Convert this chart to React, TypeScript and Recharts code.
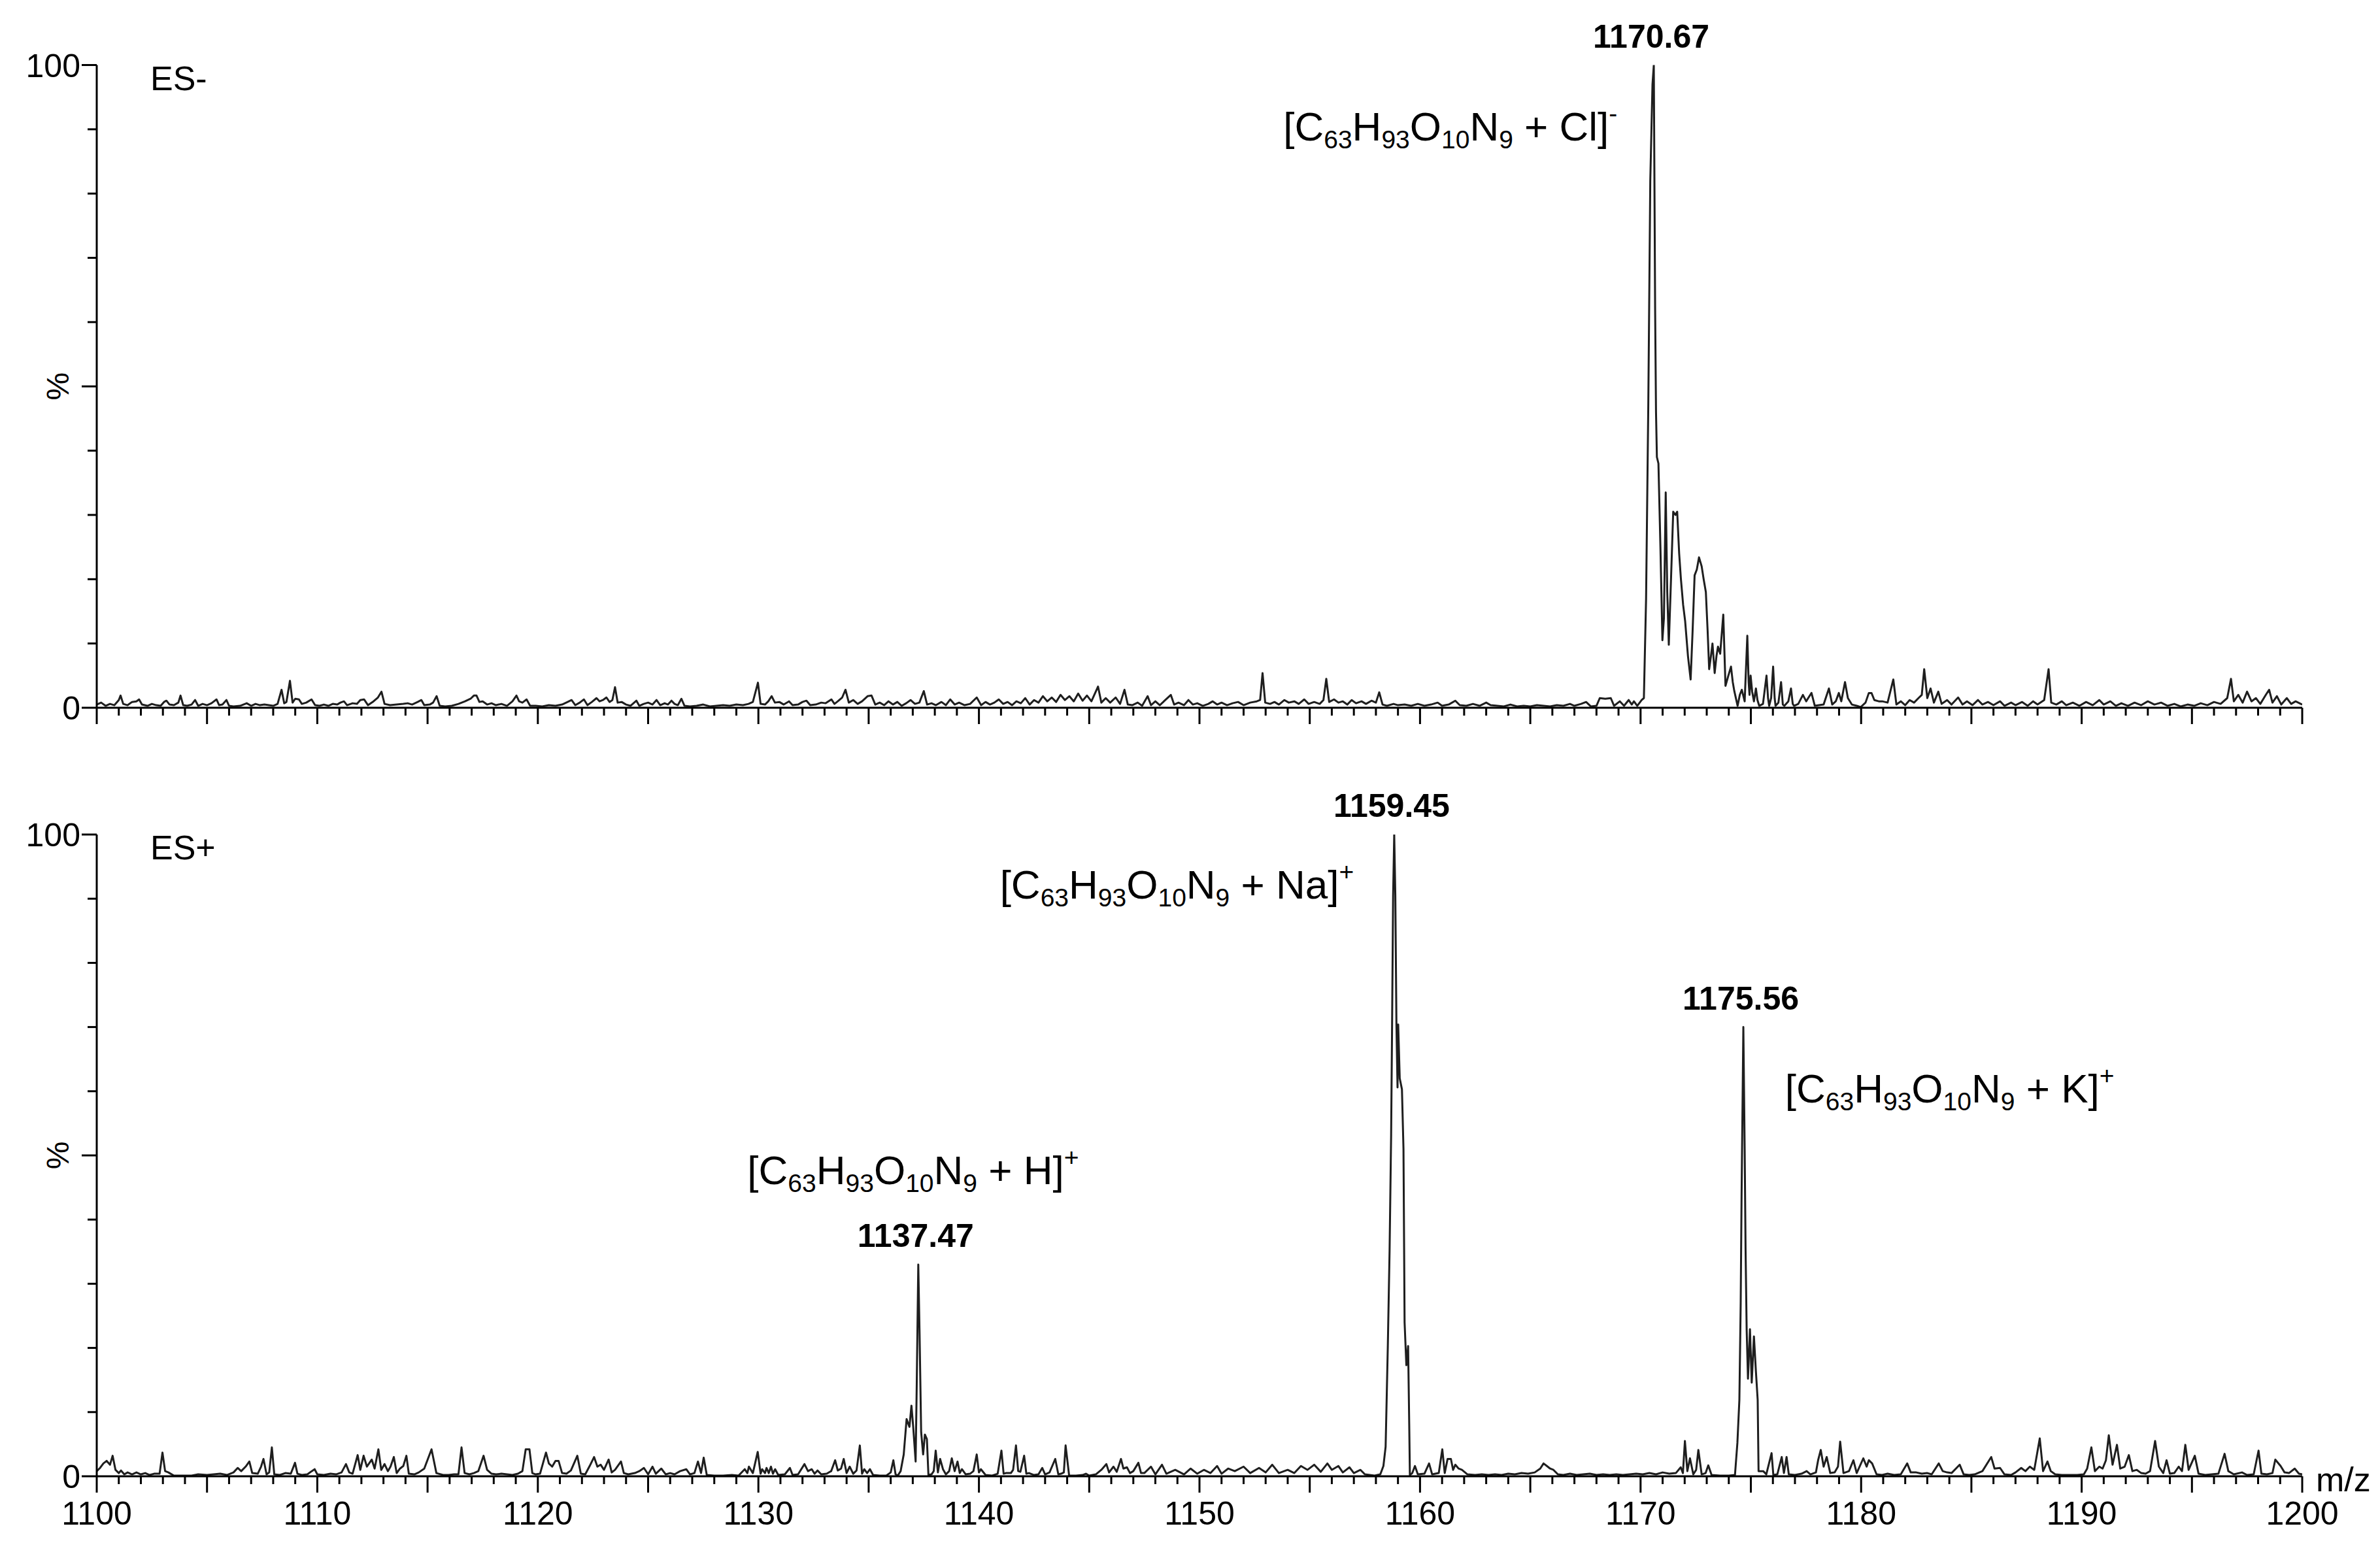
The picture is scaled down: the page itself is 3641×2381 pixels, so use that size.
import React from 'react';
import { LineChart, Line, XAxis, YAxis, ReferenceDot } from 'recharts';

// ---------- DATA (m/z, relative intensity %) ----------
const esMinusA: number[][] = [
  [1100.0, 0.5], [1100.2, 0.8], [1100.4, 0.3], [1100.6, 0.6], [1100.8, 0.4], [1101.0, 1.2], [1101.08, 1.9], [1101.2, 0.6],
  [1101.4, 0.4], [1101.6, 0.9], [1101.8, 1.0], [1101.92, 1.3], [1102.05, 0.5], [1102.3, 0.3], [1102.5, 0.6], [1102.7, 0.4],
  [1102.9, 0.3], [1103.05, 0.9], [1103.16, 1.1], [1103.3, 0.5], [1103.5, 0.4], [1103.7, 0.8], [1103.8, 1.9], [1103.92, 0.4],
  [1104.1, 0.3], [1104.3, 0.5], [1104.46, 1.2], [1104.6, 0.3], [1104.8, 0.6], [1105.0, 0.4], [1105.2, 0.7], [1105.43, 1.3],
  [1105.55, 0.4], [1105.7, 0.5], [1105.88, 1.2], [1106.0, 0.3], [1106.2, 0.2], [1106.5, 0.3], [1106.8, 0.7], [1107.0, 0.3],
  [1107.2, 0.6], [1107.4, 0.4], [1107.6, 0.5], [1107.8, 0.4], [1108.0, 0.3], [1108.2, 0.6], [1108.38, 2.8], [1108.5, 0.7],
  [1108.6, 0.9], [1108.76, 4.2], [1108.88, 0.8], [1109.0, 1.4], [1109.17, 1.3], [1109.3, 0.6], [1109.5, 0.8], [1109.74, 1.3],
  [1109.9, 0.4], [1110.1, 0.3], [1110.3, 0.5], [1110.5, 0.3], [1110.7, 0.6], [1110.9, 0.5], [1111.05, 0.8], [1111.21, 1.0],
  [1111.35, 0.4], [1111.6, 0.7], [1111.8, 0.6], [1111.95, 1.2], [1112.12, 1.3], [1112.3, 0.4], [1112.55, 1.0], [1112.75, 1.6],
  [1112.91, 2.5], [1113.05, 0.6], [1113.3, 0.4], [1113.6, 0.5], [1113.9, 0.6], [1114.1, 0.7], [1114.3, 0.5], [1114.55, 0.9],
  [1114.72, 1.2], [1114.85, 0.4], [1115.1, 0.5], [1115.25, 0.8], [1115.41, 1.8], [1115.55, 0.3], [1115.8, 0.2], [1116.1, 0.3],
  [1116.4, 0.6], [1116.7, 1.0], [1116.95, 1.4], [1117.1, 1.9], [1117.22, 1.9], [1117.35, 0.9], [1117.5, 1.0], [1117.7, 0.5],
  [1117.9, 0.7], [1118.1, 0.4], [1118.35, 0.6], [1118.6, 0.3], [1118.85, 1.0], [1119.03, 1.9], [1119.15, 1.0], [1119.3, 0.8],
  [1119.49, 1.3], [1119.65, 0.3], [1119.9, 0.3], [1120.2, 0.2], [1120.5, 0.4], [1120.8, 0.3], [1121.1, 0.5], [1121.35, 0.9],
  [1121.53, 1.2], [1121.7, 0.4], [1121.9, 0.8], [1122.09, 1.3], [1122.25, 0.4], [1122.45, 0.9], [1122.66, 1.5], [1122.8, 1.0],
  [1122.95, 1.2], [1123.11, 1.6], [1123.25, 0.9], [1123.38, 1.2], [1123.5, 3.2], [1123.62, 0.8], [1123.8, 0.9], [1124.0, 0.5],
  [1124.2, 0.3], [1124.47, 1.1], [1124.6, 0.3], [1124.8, 0.6], [1125.0, 0.8], [1125.2, 0.5], [1125.38, 1.2], [1125.55, 0.4],
  [1125.75, 0.7], [1125.9, 0.5], [1126.06, 1.1], [1126.2, 0.6], [1126.35, 0.4], [1126.51, 1.4], [1126.65, 0.3], [1126.9, 0.2],
  [1127.2, 0.3], [1127.5, 0.5], [1127.8, 0.2], [1128.1, 0.3], [1128.4, 0.4], [1128.7, 0.3], [1129.0, 0.5], [1129.3, 0.4],
  [1129.55, 0.6], [1129.75, 0.9], [1129.98, 3.9], [1130.1, 0.6], [1130.3, 0.5], [1130.45, 1.0], [1130.6, 1.8], [1130.75, 0.8],
  [1130.95, 0.9], [1131.15, 0.5], [1131.39, 1.0], [1131.55, 0.4], [1131.8, 0.5], [1132.0, 0.9], [1132.18, 1.1], [1132.35, 0.4],
  [1132.6, 0.5], [1132.85, 0.8], [1133.05, 0.7], [1133.31, 1.3], [1133.45, 0.6], [1133.6, 1.0], [1133.8, 1.6], [1133.95, 2.8],
  [1134.1, 0.8], [1134.3, 1.2], [1134.5, 0.6], [1134.7, 1.0], [1134.95, 1.8], [1135.13, 1.9], [1135.3, 0.5],
];
const esMinusB: number[][] = [
  [1135.5, 0.8], [1135.7, 0.4], [1135.9, 1.0], [1136.1, 0.5], [1136.3, 0.9], [1136.5, 0.3], [1136.7, 0.7], [1136.9, 1.2],
  [1137.1, 0.6], [1137.3, 0.8], [1137.5, 2.6], [1137.65, 0.5], [1137.85, 0.7], [1138.05, 0.4], [1138.3, 0.9], [1138.5, 0.4],
  [1138.7, 1.3], [1138.9, 0.5], [1139.1, 0.8], [1139.35, 0.4], [1139.6, 0.6], [1139.9, 1.6], [1140.1, 0.4], [1140.3, 0.9],
  [1140.5, 0.5], [1140.7, 0.8], [1140.9, 1.3], [1141.1, 0.6], [1141.3, 0.9], [1141.5, 0.4], [1141.7, 1.0], [1141.9, 0.7],
  [1142.1, 1.5], [1142.3, 0.5], [1142.5, 1.2], [1142.7, 0.8], [1142.9, 1.8], [1143.1, 1.0], [1143.3, 1.6], [1143.5, 0.9],
  [1143.7, 2.0], [1143.9, 1.2], [1144.1, 1.8], [1144.3, 1.0], [1144.5, 2.2], [1144.7, 1.1], [1144.9, 1.9], [1145.1, 1.0],
  [1145.4, 3.3], [1145.55, 0.8], [1145.75, 1.5], [1145.95, 0.8], [1146.2, 1.6], [1146.4, 0.6], [1146.6, 2.8], [1146.75, 0.5],
  [1146.95, 0.4], [1147.2, 0.8], [1147.4, 0.3], [1147.65, 1.8], [1147.8, 0.4], [1148.0, 1.0], [1148.2, 0.4], [1148.45, 1.2],
  [1148.7, 2.0], [1148.85, 0.5], [1149.05, 0.8], [1149.3, 0.4], [1149.5, 1.2], [1149.7, 0.5], [1149.9, 0.7], [1150.15, 0.3],
  [1150.4, 0.6], [1150.6, 1.0], [1150.8, 0.5], [1151.0, 0.8], [1151.25, 0.4], [1151.5, 0.7], [1151.75, 0.9], [1152.0, 0.4],
  [1152.3, 0.8], [1152.6, 1.0], [1152.75, 1.2], [1152.86, 5.4], [1152.98, 0.8], [1153.2, 0.6], [1153.4, 0.9], [1153.6, 0.5],
  [1153.85, 1.2], [1154.05, 0.8], [1154.3, 1.0], [1154.5, 0.6], [1154.75, 1.3], [1154.95, 0.6], [1155.2, 0.9], [1155.45, 0.6],
  [1155.62, 1.2], [1155.75, 4.5], [1155.88, 0.9], [1156.1, 1.3], [1156.3, 0.8], [1156.5, 1.0], [1156.7, 0.5], [1156.9, 1.2],
  [1157.1, 0.7], [1157.35, 1.0], [1157.55, 0.6], [1157.8, 1.1], [1158.0, 0.8], [1158.15, 2.4], [1158.3, 0.5], [1158.5, 0.3],
  [1158.8, 0.6], [1159.0, 0.4], [1159.3, 0.5], [1159.6, 0.3], [1159.9, 0.6], [1160.2, 0.3], [1160.5, 0.5], [1160.8, 0.8],
  [1161.0, 0.3], [1161.3, 0.5], [1161.6, 1.1], [1161.8, 0.4], [1162.1, 0.3], [1162.4, 0.6], [1162.7, 0.3], [1163.0, 0.8],
  [1163.2, 0.4], [1163.5, 0.3], [1163.8, 0.2], [1164.1, 0.5], [1164.4, 0.2], [1164.7, 0.3], [1165.0, 0.2], [1165.3, 0.4],
  [1165.6, 0.3], [1165.9, 0.2], [1166.2, 0.4], [1166.5, 0.3], [1166.8, 0.6], [1167.0, 0.3], [1167.3, 0.6], [1167.53, 0.9],
  [1167.75, 0.2], [1168.0, 0.3], [1168.15, 1.5], [1168.4, 1.4], [1168.65, 1.5], [1168.8, 0.3], [1169.06, 1.0], [1169.25, 0.3],
  [1169.46, 1.2], [1169.6, 0.5], [1169.7, 1.0], [1169.85, 0.3], [1170.05, 1.2], [1170.15, 1.5],
];
const esMinusPeak: number[][] = [
  [1170.25, 17], [1170.35, 47], [1170.44, 82], [1170.54, 97], [1170.6, 100], [1170.66, 62], [1170.7, 46], [1170.74, 39],
  [1170.81, 38], [1170.9, 25], [1170.99, 10.5], [1171.06, 14], [1171.14, 33.5], [1171.21, 18], [1171.28, 9.8], [1171.38, 20],
  [1171.48, 30.5], [1171.58, 30], [1171.66, 30.5], [1171.75, 24], [1171.83, 20], [1171.93, 16], [1172.02, 13.5], [1172.15, 8],
  [1172.27, 4.4], [1172.36, 12], [1172.45, 20.6], [1172.55, 21.5], [1172.65, 23.4], [1172.77, 22], [1172.86, 20], [1172.96, 18],
  [1173.04, 12], [1173.11, 6], [1173.19, 8], [1173.26, 10], [1173.36, 5.4], [1173.44, 8], [1173.51, 9.5], [1173.61, 8.4],
  [1173.75, 14.5], [1173.85, 3.4], [1173.98, 5], [1174.1, 6.4], [1174.18, 4], [1174.25, 2.6], [1174.4, 0.3], [1174.5, 2],
  [1174.59, 2.8], [1174.72, 1], [1174.84, 11.2], [1174.9, 4], [1174.94, 2], [1174.99, 5], [1175.06, 2.5], [1175.14, 1],
  [1175.23, 3], [1175.3, 1.2], [1175.38, 0.3], [1175.55, 0.6], [1175.71, 5], [1175.78, 1.5], [1175.83, 0.3], [1175.92, 1.5],
  [1176.01, 6.4], [1176.08, 1.5], [1176.12, 0.3], [1176.25, 0.8], [1176.37, 4], [1176.45, 0.5], [1176.52, 0.3], [1176.7, 1.0],
  [1176.82, 3], [1176.9, 0.6], [1176.96, 0.3], [1177.15, 0.6], [1177.36, 2], [1177.51, 1], [1177.6, 1.5], [1177.75, 2.3],
  [1177.9, 0.3], [1178.1, 0.4], [1178.3, 0.5], [1178.54, 3], [1178.69, 0.5], [1178.85, 1.0], [1178.99, 2.3], [1179.1, 1.0],
  [1179.27, 4], [1179.4, 1.5], [1179.58, 0.5], [1179.8, 0.3], [1179.98, 0.1], [1180.2, 0.8], [1180.35, 2.3], [1180.47, 2.3],
  [1180.6, 1.2], [1180.8, 1.0], [1180.96, 1.0], [1181.2, 0.8], [1181.46, 4.4],
];
const esMinusC: number[][] = [
  [1181.6, 0.5], [1181.8, 1.0], [1182.0, 0.4], [1182.2, 1.2], [1182.4, 0.8], [1182.6, 1.5], [1182.75, 2.0], [1182.86, 6.0],
  [1183.0, 1.5], [1183.15, 3.0], [1183.3, 0.8], [1183.5, 2.5], [1183.65, 0.6], [1183.9, 1.2], [1184.1, 0.5], [1184.4, 1.6],
  [1184.6, 0.5], [1184.8, 1.0], [1185.05, 0.4], [1185.3, 1.2], [1185.5, 0.5], [1185.75, 0.9], [1186.0, 0.4], [1186.3, 1.0],
  [1186.5, 0.3], [1186.8, 0.8], [1187.0, 0.4], [1187.3, 0.9], [1187.55, 0.3], [1187.8, 1.0], [1188.0, 0.5], [1188.3, 1.2],
  [1188.5, 6.0], [1188.62, 0.8], [1188.85, 0.5], [1189.1, 1.0], [1189.3, 0.4], [1189.6, 0.8], [1189.9, 0.3], [1190.2, 0.9],
  [1190.5, 0.4], [1190.8, 1.2], [1191.0, 0.5], [1191.3, 1.0], [1191.55, 0.3], [1191.8, 0.7], [1192.1, 0.3], [1192.4, 0.8],
  [1192.7, 0.4], [1193.0, 1.0], [1193.3, 0.5], [1193.6, 0.8], [1193.9, 0.3], [1194.2, 0.6], [1194.5, 0.2], [1194.8, 0.5],
  [1195.1, 0.3], [1195.4, 0.7], [1195.7, 0.4], [1196.0, 0.9], [1196.3, 0.6], [1196.6, 1.5], [1196.77, 4.5], [1196.9, 1.0],
  [1197.1, 2.0], [1197.3, 0.8], [1197.5, 2.5], [1197.7, 1.0], [1197.9, 1.5], [1198.1, 0.6], [1198.35, 2.0], [1198.5, 2.8],
  [1198.65, 0.8], [1198.85, 1.8], [1199.05, 0.5], [1199.3, 1.5], [1199.5, 0.6], [1199.7, 1.0], [1200.0, 0.5],
];

const esPlusA: number[][] = [
  [1100.0, 0.8], [1100.15, 1.3], [1100.3, 2.0], [1100.45, 2.4], [1100.6, 1.8], [1100.72, 3.2], [1100.85, 1.0], [1101.0, 0.5],
  [1101.1, 0.9], [1101.25, 0.3], [1101.4, 0.6], [1101.6, 0.3], [1101.8, 0.6], [1102.0, 0.3], [1102.2, 0.5], [1102.4, 0.2],
  [1102.6, 0.4], [1102.85, 0.4], [1102.98, 3.7], [1103.1, 0.8], [1103.25, 0.6], [1103.5, 0.1], [1103.9, 0.1], [1104.3, 0.1],
  [1104.6, 0.3], [1105.0, 0.2], [1105.3, 0.3], [1105.6, 0.4], [1105.9, 0.2], [1106.2, 0.6], [1106.39, 1.3], [1106.55, 0.8],
  [1106.75, 1.5], [1106.92, 2.3], [1107.05, 0.5], [1107.3, 0.4], [1107.45, 1.5], [1107.56, 2.7], [1107.7, 0.3], [1107.82, 0.6],
  [1107.94, 4.5], [1108.05, 0.3], [1108.3, 0.2], [1108.55, 0.5], [1108.8, 0.4], [1108.99, 2.1], [1109.1, 0.4], [1109.3, 0.2],
  [1109.55, 0.3], [1109.75, 0.8], [1109.88, 1.1], [1110.0, 0.3], [1110.3, 0.2], [1110.6, 0.4], [1110.85, 0.3], [1111.1, 0.6],
  [1111.3, 1.9], [1111.45, 0.6], [1111.6, 0.4], [1111.83, 3.3], [1111.95, 1.0], [1112.1, 3.2], [1112.25, 1.5], [1112.47, 2.6],
  [1112.6, 1.2], [1112.77, 4.2], [1112.9, 1.0], [1113.05, 1.9], [1113.2, 0.8], [1113.32, 1.5], [1113.47, 3.0], [1113.6, 0.5],
  [1113.75, 1.2], [1113.9, 1.6], [1114.04, 3.2], [1114.15, 0.4], [1114.4, 0.3], [1114.6, 0.6], [1114.85, 1.2], [1115.18, 4.2],
  [1115.4, 0.5], [1115.7, 0.2], [1115.95, 0.2], [1116.2, 0.3], [1116.4, 0.3], [1116.54, 4.5], [1116.68, 0.5], [1116.9, 0.3],
  [1117.1, 0.5], [1117.3, 0.8], [1117.54, 3.2], [1117.7, 1.0], [1117.9, 0.4], [1118.1, 0.3], [1118.35, 0.4], [1118.6, 0.3],
  [1118.85, 0.2], [1119.1, 0.4], [1119.3, 0.8], [1119.45, 4.2], [1119.62, 4.2], [1119.75, 0.5], [1119.9, 0.3], [1120.1, 0.4],
  [1120.37, 3.7], [1120.5, 2.0], [1120.65, 1.5], [1120.8, 2.4], [1120.94, 2.4], [1121.1, 0.5], [1121.3, 0.4], [1121.5, 0.9],
  [1121.79, 3.2], [1121.95, 0.4], [1122.15, 0.3], [1122.35, 1.6], [1122.55, 3.0], [1122.7, 1.5], [1122.85, 1.8], [1123.0, 1.0],
  [1123.21, 2.6], [1123.35, 0.6], [1123.5, 1.0], [1123.77, 2.3], [1123.9, 0.5], [1124.1, 0.3], [1124.4, 0.5], [1124.6, 0.8],
  [1124.81, 1.3], [1125.0, 0.3], [1125.2, 1.5], [1125.35, 0.4], [1125.6, 1.2], [1125.8, 0.3], [1126.0, 0.5], [1126.2, 0.3],
  [1126.45, 0.8], [1126.73, 1.1], [1126.9, 0.3], [1127.1, 0.5], [1127.26, 2.3], [1127.4, 0.5], [1127.52, 2.9], [1127.66, 0.2],
  [1128.0, 0.1], [1128.4, 0.1], [1128.8, 0.2], [1129.1, 0.1], [1129.38, 1.1], [1129.5, 0.5], [1129.57, 1.5], [1129.75, 0.5],
  [1129.97, 3.8], [1130.1, 0.4], [1130.17, 1.1], [1130.3, 0.5], [1130.37, 1.3], [1130.47, 0.5], [1130.57, 1.5], [1130.66, 0.4],
  [1130.76, 1.1], [1130.9, 0.2], [1131.2, 0.3], [1131.43, 1.3], [1131.55, 0.2], [1131.8, 0.3], [1132.09, 1.9], [1132.25, 0.8],
  [1132.42, 1.1], [1132.55, 0.4], [1132.68, 0.9], [1132.85, 0.3], [1133.1, 0.4], [1133.3, 0.8], [1133.48, 2.5], [1133.6, 0.9],
  [1133.75, 1.2], [1133.87, 2.7], [1134.0, 0.5], [1134.14, 1.5], [1134.3, 0.4], [1134.45, 0.9], [1134.6, 4.8], [1134.7, 0.4],
  [1134.8, 1.1], [1134.93, 0.5], [1135.06, 1.1], [1135.2, 0.2], [1135.5, 0.1], [1135.8, 0.1], [1136.0, 0.6], [1136.12, 2.5],
  [1136.22, 0.3], [1136.32, 0.1], [1136.45, 0.8],
];
const esPlusH: number[][] = [
  [1136.59, 3.4], [1136.72, 8.9], [1136.85, 7.7], [1136.94, 11], [1137.02, 7.7], [1137.13, 2.3], [1137.18, 14.3], [1137.25, 33],
  [1137.31, 22], [1137.38, 6.9], [1137.47, 3.4], [1137.55, 6.5], [1137.64, 5.8], [1137.71, 0.2],
];
const esPlusB: number[][] = [
  [1137.85, 0.3], [1137.95, 0.8], [1138.04, 4.0], [1138.14, 0.6], [1138.24, 2.7], [1138.37, 1.1], [1138.5, 0.3], [1138.65, 0.8],
  [1138.77, 2.8], [1138.9, 0.8], [1139.03, 2.3], [1139.13, 0.5], [1139.23, 1.1], [1139.4, 0.3], [1139.6, 0.4], [1139.75, 0.8],
  [1139.9, 3.4], [1140.0, 0.6], [1140.09, 1.1], [1140.3, 0.2], [1140.6, 0.1], [1140.85, 0.4], [1141.02, 4.0], [1141.12, 0.4],
  [1141.22, 0.5], [1141.45, 0.5], [1141.55, 1.0], [1141.68, 4.8], [1141.78, 0.8], [1141.88, 0.7], [1142.05, 3.2], [1142.15, 0.4],
  [1142.27, 0.5], [1142.5, 0.2], [1142.7, 0.3], [1142.87, 1.3], [1143.0, 0.3], [1143.2, 0.6], [1143.46, 2.7], [1143.6, 0.3],
  [1143.73, 0.4], [1143.85, 0.6], [1143.93, 4.8], [1144.09, 0.1], [1144.4, 0.1], [1144.7, 0.2], [1144.85, 0.4], [1145.0, 0.1],
  [1145.3, 0.3], [1145.55, 1.0], [1145.78, 1.9], [1145.9, 0.6], [1146.1, 1.5], [1146.25, 0.7], [1146.44, 2.7], [1146.55, 1.2],
  [1146.71, 1.4], [1146.85, 0.5], [1147.0, 0.8], [1147.23, 2.1], [1147.35, 0.5], [1147.5, 0.5], [1147.8, 1.5], [1148.0, 0.3],
  [1148.3, 1.8], [1148.5, 0.4], [1148.9, 1.0], [1149.3, 0.3], [1149.6, 1.2], [1149.9, 0.4], [1150.2, 1.0], [1150.5, 0.5],
  [1150.8, 1.6], [1151.0, 0.4], [1151.3, 1.2], [1151.6, 0.8], [1152.0, 1.5], [1152.3, 0.5], [1152.7, 1.3], [1153.0, 0.6],
  [1153.3, 1.8], [1153.6, 0.5], [1154.0, 1.0], [1154.3, 0.5], [1154.6, 1.6], [1154.9, 1.0], [1155.2, 1.8], [1155.5, 0.7],
  [1155.8, 2.0], [1156.0, 1.0], [1156.3, 1.6], [1156.5, 0.6], [1156.8, 1.4], [1157.0, 0.5], [1157.3, 1.0], [1157.5, 0.3],
  [1157.94, 0.1], [1158.2, 0.3], [1158.34, 1.6],
];
const esPlusNa: number[][] = [
  [1158.44, 4.6], [1158.54, 20.3], [1158.62, 35.2], [1158.69, 53.2], [1158.73, 68.9], [1158.78, 90.5], [1158.83, 100],
  [1158.88, 90.5], [1158.93, 70.4], [1158.98, 60.6], [1159.01, 70.4], [1159.08, 62], [1159.18, 60.3], [1159.25, 51],
  [1159.3, 24], [1159.38, 17.3], [1159.46, 20.3], [1159.51, 8.2], [1159.54, 0.2],
];
const esPlusC: number[][] = [
  [1159.65, 0.5], [1159.77, 1.6], [1159.9, 0.3], [1160.2, 0.4], [1160.41, 2.0], [1160.55, 0.3], [1160.85, 0.5], [1161.01, 4.2],
  [1161.12, 0.5], [1161.25, 2.7], [1161.4, 2.7], [1161.5, 1.0], [1161.6, 1.8], [1161.75, 1.2], [1161.9, 1.0], [1162.15, 0.3],
  [1162.5, 0.2], [1162.8, 0.3], [1163.1, 0.2], [1163.4, 0.3], [1163.7, 0.2], [1164.0, 0.4], [1164.3, 0.3], [1164.6, 0.5],
  [1164.9, 0.4], [1165.2, 0.6], [1165.45, 1.2], [1165.6, 2.0], [1165.75, 1.6], [1165.9, 1.2], [1166.05, 1.0], [1166.25, 0.3],
  [1166.5, 0.2], [1166.8, 0.4], [1167.1, 0.2], [1167.4, 0.3], [1167.7, 0.4], [1168.0, 0.2], [1168.3, 0.3], [1168.6, 0.2],
  [1168.9, 0.3], [1169.2, 0.2], [1169.5, 0.3], [1169.8, 0.4], [1170.1, 0.3], [1170.4, 0.5], [1170.7, 0.3], [1171.0, 0.6],
  [1171.3, 0.4], [1171.6, 0.5], [1171.82, 1.4], [1171.92, 0.5], [1172.01, 5.5], [1172.12, 0.8], [1172.24, 2.8], [1172.39, 0.3],
  [1172.52, 1.0], [1172.62, 4.1], [1172.77, 0.3], [1172.95, 0.5], [1173.07, 1.7], [1173.22, 0.2], [1173.6, 0.1], [1174.0, 0.1],
  [1174.28, 0.2],
];
const esPlusK: number[][] = [
  [1174.39, 5.2], [1174.48, 11.9], [1174.54, 27], [1174.58, 43.9], [1174.63, 60], [1174.66, 70], [1174.72, 51], [1174.76, 35.6],
  [1174.81, 22.9], [1174.87, 15.2], [1174.96, 22.9], [1175.04, 14.6], [1175.14, 21.8], [1175.23, 16.3], [1175.31, 11.9],
  [1175.35, 0.8],
];
const esPlusD: number[][] = [
  [1175.56, 0.8], [1175.7, 0.3], [1175.94, 3.6], [1176.02, 0.2], [1176.2, 0.3], [1176.4, 3.0], [1176.5, 0.5], [1176.62, 3.0],
  [1176.72, 0.3], [1177.0, 0.2], [1177.3, 0.4], [1177.53, 0.8], [1177.7, 0.3], [1177.95, 0.6], [1178.05, 2.5], [1178.17, 4.1],
  [1178.3, 1.5], [1178.44, 3.0], [1178.6, 0.5], [1178.8, 0.6], [1178.95, 1.5], [1179.05, 5.4], [1179.2, 0.5], [1179.45, 0.8],
  [1179.65, 2.5], [1179.8, 0.5], [1180.1, 2.8], [1180.25, 1.5], [1180.35, 2.5], [1180.5, 2.0], [1180.7, 0.3], [1180.95, 0.2],
  [1181.2, 0.4], [1181.5, 0.2], [1181.8, 0.3], [1182.09, 2.0], [1182.25, 0.6], [1182.5, 0.6], [1182.75, 0.4], [1183.0, 0.5],
  [1183.2, 0.3], [1183.52, 2.0], [1183.7, 0.8], [1183.9, 0.6], [1184.1, 0.5], [1184.47, 1.8], [1184.65, 0.3], [1184.9, 0.2],
  [1185.15, 0.3], [1185.5, 0.8], [1185.9, 3.0], [1186.05, 1.2], [1186.3, 1.3], [1186.5, 0.3], [1186.8, 0.2], [1187.0, 0.6],
  [1187.26, 1.3], [1187.45, 0.8], [1187.65, 1.5], [1187.85, 1.0], [1188.1, 5.9], [1188.25, 0.8], [1188.45, 2.3], [1188.6, 0.8],
  [1188.8, 0.3], [1189.1, 0.2], [1189.5, 0.2], [1189.8, 0.2], [1190.1, 0.3], [1190.25, 1.2], [1190.44, 4.5], [1190.6, 0.8],
  [1190.8, 1.5], [1190.95, 1.2], [1191.1, 2.5], [1191.23, 6.4], [1191.4, 1.8], [1191.6, 4.9], [1191.75, 1.2], [1191.95, 1.5],
  [1192.14, 3.3], [1192.3, 0.8], [1192.5, 1.0], [1192.7, 0.5], [1192.9, 0.4], [1193.1, 0.8], [1193.33, 5.5], [1193.5, 1.5],
  [1193.7, 0.5], [1193.85, 2.5], [1194.0, 0.4], [1194.2, 0.5], [1194.4, 1.5], [1194.55, 0.8], [1194.7, 4.9], [1194.85, 1.0],
  [1195.13, 3.2], [1195.3, 0.4], [1195.6, 0.2], [1195.9, 0.3], [1196.2, 0.4], [1196.48, 3.5], [1196.65, 0.8], [1196.9, 0.3],
  [1197.27, 0.6], [1197.5, 0.2], [1197.8, 0.3], [1198.02, 4.0], [1198.15, 0.4], [1198.4, 0.3], [1198.65, 0.5], [1198.78, 2.6],
  [1199.02, 1.6], [1199.2, 0.6], [1199.4, 0.5], [1199.66, 1.2], [1199.85, 0.4], [1200.0, 0.3],
];

// axis ticks
const xTicks: number[] = Array.from({ length: 101 }, (_, i) => 1100 + i);
const xLabelTicks: number[] = [1100, 1110, 1120, 1130, 1140, 1150, 1160, 1170, 1180, 1190, 1200];
const yTicks: number[] = [0, 10, 20, 30, 40, 50, 60, 70, 80, 90, 100];
const yLabelTicks: number[] = [0, 100];

// peak annotations: position of the apex as drawn, and the printed label
const esMinusPeakLabels = [{ mz: 1170.6, pct: 100, text: '1170.67' }];
const esPlusPeakLabels = [
  { mz: 1137.25, pct: 33, text: '1137.47' },
  { mz: 1158.83, pct: 100, text: '1159.45' },
  { mz: 1174.66, pct: 70, text: '1175.56' },
];

type Seg = { t: string; s?: 'sub' | 'sup' };
const formula = (ion: string, charge: string): Seg[] => [
  { t: '[C' }, { t: '63', s: 'sub' }, { t: 'H' }, { t: '93', s: 'sub' }, { t: 'O' }, { t: '10', s: 'sub' },
  { t: 'N' }, { t: '9', s: 'sub' }, { t: ' + ' + ion + ']' }, { t: charge, s: 'sup' },
];
const esMinusIonLabels = [{ mz: 1153.8, pct: 88.3, segs: formula('Cl', '-') }];
const esPlusIonLabels = [
  { mz: 1129.5, pct: 45.5, segs: formula('H', '+') },
  { mz: 1140.95, pct: 90.0, segs: formula('Na', '+') },
  { mz: 1176.55, pct: 58.2, segs: formula('K', '+') },
];

const toData = (rows: number[][]) => rows.map(([mz, pct]) => ({ mz, pct }));
const esMinusData = toData([...esMinusA, ...esMinusB, ...esMinusPeak, ...esMinusC]);
const esPlusData = toData([...esPlusA, ...esPlusH, ...esPlusB, ...esPlusNa, ...esPlusC, ...esPlusK, ...esPlusD]);

// ---------- STYLE ----------
const FONT = '"Liberation Sans", Arial, Helvetica, sans-serif';
const INK = '#000';
const LINE = '#1e1e1e';

const XTick = (props: any) => {
  const { x, y, payload, showLabels } = props;
  const v = Math.round(payload.value);
  const major = v % 5 === 0;
  const len = major ? 25 : 12;
  const lab = showLabels && xLabelTicks.includes(v);
  return (
    <g>
      <line x1={x} x2={x} y1={y} y2={y + len} stroke={INK} strokeWidth={3} />
      {lab && (
        <text x={x} y={y + 74} textAnchor="middle" fontSize={50} fontFamily={FONT} fill={INK}>
          {v}
        </text>
      )}
    </g>
  );
};

const YTick = (props: any) => {
  const { x, y, payload } = props;
  const v = payload.value;
  const major = v % 50 === 0;
  const len = major ? 23 : 14;
  return (
    <g>
      <line x1={x - len} x2={x} y1={y} y2={y} stroke={INK} strokeWidth={3} />
      {yLabelTicks.includes(v) && (
        <text x={x - 25} y={y + 18} textAnchor="end" fontSize={50} fontFamily={FONT} fill={INK}>
          {v}
        </text>
      )}
    </g>
  );
};

const PercentLabel = (props: any) => {
  const vb = props.viewBox || {};
  const cx = (vb.x || 0) + 88;
  const cy = (vb.y || 0) + (vb.height || 0) / 2;
  return (
    <text x={cx} y={cy} transform={`rotate(-90 ${cx} ${cy})`} textAnchor="middle" dominantBaseline="central"
      fontSize={48} fontFamily={FONT} fill={INK}>%</text>
  );
};

const MzLabel = (props: any) => {
  const vb = props.viewBox || {};
  return (
    <text x={(vb.x || 0) + (vb.width || 0) + 21} y={(vb.y || 0) + 23} fontSize={52} fontFamily={FONT} fill={INK}>m/z</text>
  );
};

const peakLabel = (text: string) => (props: any) => {
  const vb = props.viewBox || {};
  return (
    <text x={vb.x - 4} y={vb.y - 27} textAnchor="middle" fontSize={50} fontWeight="bold" fontFamily={FONT} fill={INK}>
      {text}
    </text>
  );
};

const ionLabel = (segs: Seg[]) => (props: any) => {
  const vb = props.viewBox || {};
  let cur = 0;
  return (
    <text x={vb.x} y={vb.y} fontSize={62} fontFamily={FONT} fill={INK}>
      {segs.map((sg, i) => {
        const target = sg.s === 'sub' ? 12 : sg.s === 'sup' ? -28 : 0;
        const dy = target - cur;
        cur = target;
        return (
          <tspan key={i} dy={dy} fontSize={sg.s ? 39 : 62}>{sg.t}</tspan>
        );
      })}
    </text>
  );
};

const modeLabel = (text: string) => (props: any) => {
  const vb = props.viewBox || {};
  return (
    <text x={vb.x + 82} y={vb.y + 38} fontSize={52} fontFamily={FONT} fill={INK}>{text}</text>
  );
};

const W = 3641;

const Panel = ({ data, height, top, bottom, xAxisH, showLabels, mode, peaks, ions }: any) => (
  <LineChart width={W} height={height} data={data} margin={{ top, right: 119, bottom, left: 0 }}>
    <XAxis
      dataKey="mz"
      type="number"
      domain={[1100, 1200]}
      ticks={xTicks}
      interval={0}
      tickSize={0}
      tickMargin={0}
      tickLine={false}
      tick={<XTick showLabels={showLabels} />}
      axisLine={{ stroke: INK, strokeWidth: 3 }}
      height={xAxisH}
      allowDataOverflow
      label={showLabels ? <MzLabel /> : undefined}
    />
    <YAxis
      type="number"
      domain={[0, 100]}
      ticks={yTicks}
      interval={0}
      tickSize={0}
      tickMargin={0}
      tickLine={false}
      tick={<YTick />}
      axisLine={{ stroke: INK, strokeWidth: 3 }}
      width={148}
      allowDataOverflow
      label={<PercentLabel />}
    />
    <Line
      dataKey="pct"
      type="linear"
      stroke={LINE}
      strokeWidth={3}
      dot={false}
      activeDot={false}
      isAnimationActive={false}
      strokeLinejoin="round"
    />
    <ReferenceDot x={1100} y={100} r={0} fill="none" stroke="none" label={modeLabel(mode)} ifOverflow="visible" />
    {peaks.map((p: any) => (
      <ReferenceDot key={p.text} x={p.mz} y={p.pct} r={0} fill="none" stroke="none" label={peakLabel(p.text)} ifOverflow="visible" />
    ))}
    {ions.map((p: any, i: number) => (
      <ReferenceDot key={'ion' + i} x={p.mz} y={p.pct} r={0} fill="none" stroke="none" label={ionLabel(p.segs)} ifOverflow="visible" />
    ))}
  </LineChart>
);

export default function App() {
  return (
    <div style={{ position: 'absolute', left: 0, top: 0, width: W, height: 2381, background: '#fff', overflow: 'hidden' }}>
      <div style={{ position: 'absolute', left: 0, top: 0 }}>
        <Panel data={esMinusData} height={1170} top={99.5} bottom={27} xAxisH={60} showLabels={false}
          mode="ES-" peaks={esMinusPeakLabels} ions={esMinusIonLabels} />
      </div>
      <div style={{ position: 'absolute', left: 0, top: 1180 }}>
        <Panel data={esPlusData} height={1201} top={97} bottom={22} xAxisH={100} showLabels={true}
          mode="ES+" peaks={esPlusPeakLabels} ions={esPlusIonLabels} />
      </div>
    </div>
  );
}
